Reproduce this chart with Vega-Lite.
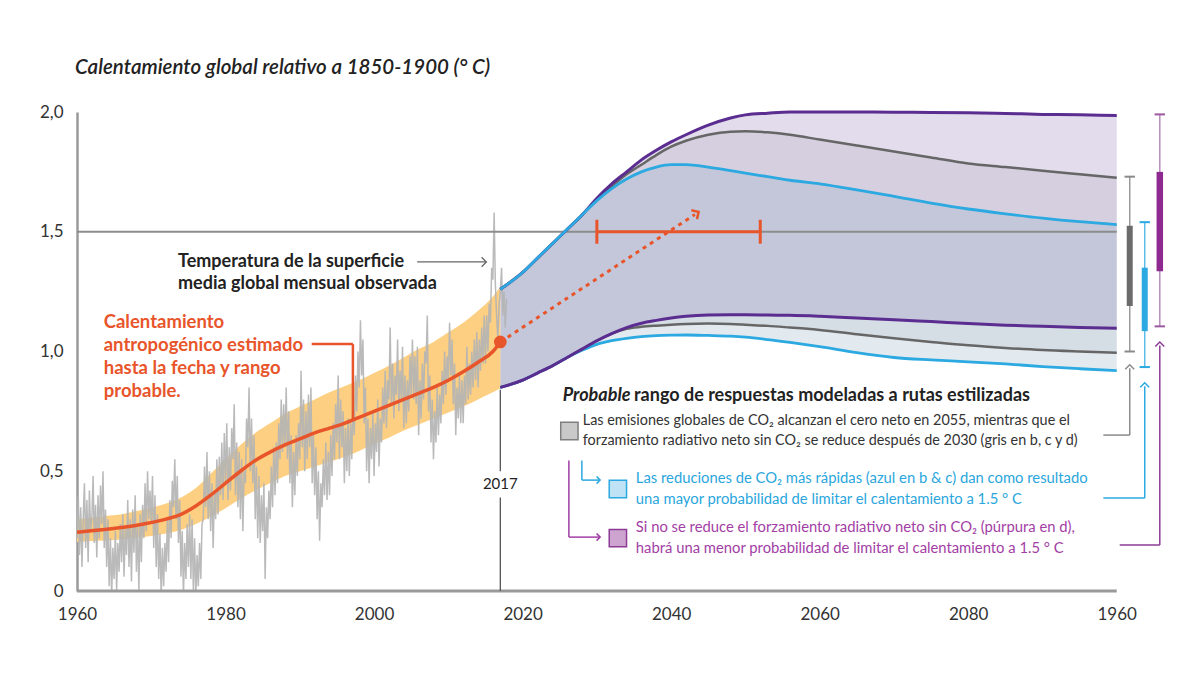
{
  "$schema": "https://vega.github.io/schema/vega-lite/v6.json",
  "width": 1114,
  "height": 479,
  "autosize": {"type": "none"},
  "padding": {"left": 77, "top": 112, "right": 7, "bottom": 109},
  "background": "white",
  "config": {
    "view": {"stroke": null},
    "font": "Lato",
    "axis": {
      "grid": false,
      "ticks": false,
      "tickSize": 0,
      "labelFont": "Lato",
      "labelFontSize": 17,
      "labelColor": "#333333",
      "labelFlush": false,
      "labelOverlap": false
    }
  },
  "datasets": {
    "uno": [{}],
    "observada": [
      {"t":1960,"v":0.22},{"t":1960.167,"v":0.40},{"t":1960.333,"v":0.15},{"t":1960.5,"v":0.35},{"t":1960.667,"v":0.10},{"t":1960.833,"v":0.30},
      {"t":1961,"v":0.45},{"t":1961.167,"v":0.18},{"t":1961.333,"v":0.38},{"t":1961.5,"v":0.12},{"t":1961.667,"v":0.42},{"t":1961.833,"v":0.25},
      {"t":1962,"v":0.30},{"t":1962.167,"v":0.48},{"t":1962.333,"v":0.20},{"t":1962.5,"v":0.36},{"t":1962.667,"v":0.14},{"t":1962.833,"v":0.40},
      {"t":1963,"v":0.22},{"t":1963.167,"v":0.44},{"t":1963.333,"v":0.28},{"t":1963.5,"v":0.50},{"t":1963.667,"v":0.18},{"t":1963.833,"v":0.34},
      {"t":1964,"v":0.10},{"t":1964.167,"v":0.30},{"t":1964.333,"v":0.02},{"t":1964.5,"v":0.22},{"t":1964.667,"v":-0.02},{"t":1964.833,"v":0.18},
      {"t":1965,"v":0.05},{"t":1965.167,"v":0.25},{"t":1965.333,"v":0.00},{"t":1965.5,"v":0.20},{"t":1965.667,"v":0.08},{"t":1965.833,"v":0.28},
      {"t":1966,"v":0.12},{"t":1966.167,"v":0.32},{"t":1966.333,"v":0.06},{"t":1966.5,"v":0.26},{"t":1966.667,"v":0.15},{"t":1966.833,"v":0.38},
      {"t":1967,"v":0.10},{"t":1967.167,"v":0.30},{"t":1967.333,"v":0.04},{"t":1967.5,"v":0.34},{"t":1967.667,"v":0.16},{"t":1967.833,"v":0.40},
      {"t":1968,"v":0.08},{"t":1968.167,"v":0.28},{"t":1968.333,"v":0.00},{"t":1968.5,"v":0.32},{"t":1968.667,"v":0.12},{"t":1968.833,"v":0.36},
      {"t":1969,"v":0.22},{"t":1969.167,"v":0.45},{"t":1969.333,"v":0.25},{"t":1969.5,"v":0.50},{"t":1969.667,"v":0.30},{"t":1969.833,"v":0.42},
      {"t":1970,"v":0.28},{"t":1970.167,"v":0.48},{"t":1970.333,"v":0.18},{"t":1970.5,"v":0.40},{"t":1970.667,"v":0.10},{"t":1970.833,"v":0.32},
      {"t":1971,"v":0.05},{"t":1971.167,"v":0.24},{"t":1971.333,"v":-0.02},{"t":1971.5,"v":0.18},{"t":1971.667,"v":0.02},{"t":1971.833,"v":0.20},
      {"t":1972,"v":0.08},{"t":1972.167,"v":0.30},{"t":1972.333,"v":0.12},{"t":1972.5,"v":0.38},{"t":1972.667,"v":0.22},{"t":1972.833,"v":0.46},
      {"t":1973,"v":0.35},{"t":1973.167,"v":0.55},{"t":1973.333,"v":0.30},{"t":1973.5,"v":0.48},{"t":1973.667,"v":0.20},{"t":1973.833,"v":0.38},
      {"t":1974,"v":0.06},{"t":1974.167,"v":0.25},{"t":1974.333,"v":-0.02},{"t":1974.5,"v":0.20},{"t":1974.667,"v":0.05},{"t":1974.833,"v":0.28},
      {"t":1975,"v":0.10},{"t":1975.167,"v":0.32},{"t":1975.333,"v":0.05},{"t":1975.5,"v":0.30},{"t":1975.667,"v":0.00},{"t":1975.833,"v":0.22},
      {"t":1976,"v":-0.03},{"t":1976.167,"v":0.15},{"t":1976.333,"v":0.02},{"t":1976.5,"v":0.20},{"t":1976.667,"v":0.05},{"t":1976.833,"v":0.28},
      {"t":1977,"v":0.30},{"t":1977.167,"v":0.52},{"t":1977.333,"v":0.35},{"t":1977.5,"v":0.58},{"t":1977.667,"v":0.30},{"t":1977.833,"v":0.50},
      {"t":1978,"v":0.25},{"t":1978.167,"v":0.45},{"t":1978.333,"v":0.18},{"t":1978.5,"v":0.42},{"t":1978.667,"v":0.30},{"t":1978.833,"v":0.55},
      {"t":1979,"v":0.32},{"t":1979.167,"v":0.56},{"t":1979.333,"v":0.40},{"t":1979.5,"v":0.62},{"t":1979.667,"v":0.38},{"t":1979.833,"v":0.66},
      {"t":1980,"v":0.45},{"t":1980.167,"v":0.70},{"t":1980.333,"v":0.38},{"t":1980.5,"v":0.60},{"t":1980.667,"v":0.42},{"t":1980.833,"v":0.68},
      {"t":1981,"v":0.55},{"t":1981.167,"v":0.78},{"t":1981.333,"v":0.40},{"t":1981.5,"v":0.62},{"t":1981.667,"v":0.35},{"t":1981.833,"v":0.58},
      {"t":1982,"v":0.30},{"t":1982.167,"v":0.55},{"t":1982.333,"v":0.25},{"t":1982.5,"v":0.50},{"t":1982.667,"v":0.45},{"t":1982.833,"v":0.72},
      {"t":1983,"v":0.60},{"t":1983.167,"v":0.85},{"t":1983.333,"v":0.50},{"t":1983.5,"v":0.72},{"t":1983.667,"v":0.45},{"t":1983.833,"v":0.65},
      {"t":1984,"v":0.30},{"t":1984.167,"v":0.52},{"t":1984.333,"v":0.22},{"t":1984.5,"v":0.48},{"t":1984.667,"v":0.20},{"t":1984.833,"v":0.40},
      {"t":1985,"v":0.25},{"t":1985.167,"v":0.45},{"t":1985.333,"v":0.05},{"t":1985.5,"v":0.35},{"t":1985.667,"v":0.22},{"t":1985.833,"v":0.42},
      {"t":1986,"v":0.30},{"t":1986.167,"v":0.52},{"t":1986.333,"v":0.35},{"t":1986.5,"v":0.60},{"t":1986.667,"v":0.40},{"t":1986.833,"v":0.62},
      {"t":1987,"v":0.45},{"t":1987.167,"v":0.70},{"t":1987.333,"v":0.55},{"t":1987.5,"v":0.80},{"t":1987.667,"v":0.58},{"t":1987.833,"v":0.78},
      {"t":1988,"v":0.60},{"t":1988.167,"v":0.85},{"t":1988.333,"v":0.55},{"t":1988.5,"v":0.75},{"t":1988.667,"v":0.45},{"t":1988.833,"v":0.65},
      {"t":1989,"v":0.35},{"t":1989.167,"v":0.58},{"t":1989.333,"v":0.40},{"t":1989.5,"v":0.65},{"t":1989.667,"v":0.48},{"t":1989.833,"v":0.70},
      {"t":1990,"v":0.55},{"t":1990.167,"v":0.92},{"t":1990.333,"v":0.60},{"t":1990.5,"v":0.80},{"t":1990.667,"v":0.50},{"t":1990.833,"v":0.75},
      {"t":1991,"v":0.55},{"t":1991.167,"v":0.82},{"t":1991.333,"v":0.60},{"t":1991.5,"v":0.85},{"t":1991.667,"v":0.45},{"t":1991.833,"v":0.65},
      {"t":1992,"v":0.40},{"t":1992.167,"v":0.60},{"t":1992.333,"v":0.30},{"t":1992.5,"v":0.50},{"t":1992.667,"v":0.21},{"t":1992.833,"v":0.45},
      {"t":1993,"v":0.35},{"t":1993.167,"v":0.55},{"t":1993.333,"v":0.40},{"t":1993.5,"v":0.62},{"t":1993.667,"v":0.38},{"t":1993.833,"v":0.58},
      {"t":1994,"v":0.40},{"t":1994.167,"v":0.65},{"t":1994.333,"v":0.48},{"t":1994.5,"v":0.70},{"t":1994.667,"v":0.55},{"t":1994.833,"v":0.78},
      {"t":1995,"v":0.62},{"t":1995.167,"v":0.90},{"t":1995.333,"v":0.55},{"t":1995.5,"v":0.80},{"t":1995.667,"v":0.60},{"t":1995.833,"v":0.75},
      {"t":1996,"v":0.45},{"t":1996.167,"v":0.68},{"t":1996.333,"v":0.50},{"t":1996.5,"v":0.72},{"t":1996.667,"v":0.48},{"t":1996.833,"v":0.70},
      {"t":1997,"v":0.55},{"t":1997.167,"v":0.80},{"t":1997.333,"v":0.65},{"t":1997.5,"v":0.90},{"t":1997.667,"v":0.75},{"t":1997.833,"v":1.00},
      {"t":1998,"v":0.85},{"t":1998.167,"v":1.13},{"t":1998.333,"v":0.90},{"t":1998.5,"v":1.05},{"t":1998.667,"v":0.70},{"t":1998.833,"v":0.85},
      {"t":1999,"v":0.50},{"t":1999.167,"v":0.72},{"t":1999.333,"v":0.45},{"t":1999.5,"v":0.68},{"t":1999.667,"v":0.55},{"t":1999.833,"v":0.75},
      {"t":2000,"v":0.48},{"t":2000.167,"v":0.70},{"t":2000.333,"v":0.58},{"t":2000.5,"v":0.80},{"t":2000.667,"v":0.52},{"t":2000.833,"v":0.72},
      {"t":2001,"v":0.62},{"t":2001.167,"v":0.85},{"t":2001.333,"v":0.70},{"t":2001.5,"v":0.92},{"t":2001.667,"v":0.68},{"t":2001.833,"v":0.88},
      {"t":2002,"v":0.80},{"t":2002.167,"v":1.10},{"t":2002.333,"v":0.78},{"t":2002.5,"v":0.95},{"t":2002.667,"v":0.72},{"t":2002.833,"v":0.90},
      {"t":2003,"v":0.82},{"t":2003.167,"v":1.05},{"t":2003.333,"v":0.75},{"t":2003.5,"v":0.92},{"t":2003.667,"v":0.80},{"t":2003.833,"v":1.02},
      {"t":2004,"v":0.68},{"t":2004.167,"v":0.90},{"t":2004.333,"v":0.70},{"t":2004.5,"v":0.88},{"t":2004.667,"v":0.75},{"t":2004.833,"v":0.98},
      {"t":2005,"v":0.82},{"t":2005.167,"v":1.05},{"t":2005.333,"v":0.80},{"t":2005.5,"v":0.98},{"t":2005.667,"v":0.78},{"t":2005.833,"v":1.02},
      {"t":2006,"v":0.65},{"t":2006.167,"v":0.88},{"t":2006.333,"v":0.72},{"t":2006.5,"v":0.95},{"t":2006.667,"v":0.80},{"t":2006.833,"v":1.00},
      {"t":2007,"v":0.95},{"t":2007.167,"v":1.15},{"t":2007.333,"v":0.75},{"t":2007.5,"v":0.90},{"t":2007.667,"v":0.62},{"t":2007.833,"v":0.80},
      {"t":2008,"v":0.55},{"t":2008.167,"v":0.75},{"t":2008.333,"v":0.62},{"t":2008.5,"v":0.85},{"t":2008.667,"v":0.65},{"t":2008.833,"v":0.82},
      {"t":2009,"v":0.70},{"t":2009.167,"v":0.92},{"t":2009.333,"v":0.78},{"t":2009.5,"v":1.00},{"t":2009.667,"v":0.82},{"t":2009.833,"v":0.98},
      {"t":2010,"v":0.88},{"t":2010.167,"v":1.12},{"t":2010.333,"v":0.90},{"t":2010.5,"v":1.05},{"t":2010.667,"v":0.78},{"t":2010.833,"v":0.95},
      {"t":2011,"v":0.65},{"t":2011.167,"v":0.85},{"t":2011.333,"v":0.72},{"t":2011.5,"v":0.90},{"t":2011.667,"v":0.70},{"t":2011.833,"v":0.88},
      {"t":2012,"v":0.70},{"t":2012.167,"v":0.90},{"t":2012.333,"v":0.78},{"t":2012.5,"v":1.02},{"t":2012.667,"v":0.80},{"t":2012.833,"v":0.95},
      {"t":2013,"v":0.82},{"t":2013.167,"v":1.00},{"t":2013.333,"v":0.85},{"t":2013.5,"v":1.05},{"t":2013.667,"v":0.88},{"t":2013.833,"v":1.08},
      {"t":2014,"v":0.85},{"t":2014.167,"v":1.05},{"t":2014.333,"v":0.92},{"t":2014.5,"v":1.10},{"t":2014.667,"v":0.95},{"t":2014.833,"v":1.15},
      {"t":2015,"v":0.95},{"t":2015.167,"v":1.15},{"t":2015.333,"v":1.00},{"t":2015.5,"v":1.20},{"t":2015.667,"v":1.12},{"t":2015.833,"v":1.35},
      {"t":2016,"v":1.30},{"t":2016.167,"v":1.58},{"t":2016.333,"v":1.28},{"t":2016.5,"v":1.15},{"t":2016.667,"v":1.05},{"t":2016.833,"v":1.20},
      {"t":2017,"v":1.25},{"t":2017.167,"v":1.35},{"t":2017.333,"v":1.15},{"t":2017.5,"v":1.25},{"t":2017.667,"v":1.10},{"t":2017.833,"v":1.22}
    ],
    "antropogenico": [
      {"año":1960,"est":0.245,"min":0.205,"max":0.30},
      {"año":1963,"est":0.255,"min":0.21,"max":0.31},
      {"año":1966,"est":0.265,"min":0.215,"max":0.32},
      {"año":1969,"est":0.28,"min":0.225,"max":0.34},
      {"año":1972,"est":0.30,"min":0.24,"max":0.365},
      {"año":1974,"est":0.32,"min":0.255,"max":0.39},
      {"año":1976,"est":0.355,"min":0.28,"max":0.43},
      {"año":1978,"est":0.40,"min":0.31,"max":0.49},
      {"año":1980,"est":0.45,"min":0.345,"max":0.55},
      {"año":1982,"est":0.50,"min":0.385,"max":0.61},
      {"año":1984,"est":0.545,"min":0.42,"max":0.66},
      {"año":1986,"est":0.58,"min":0.45,"max":0.70},
      {"año":1988,"est":0.61,"min":0.48,"max":0.74},
      {"año":1990,"est":0.635,"min":0.50,"max":0.77},
      {"año":1992,"est":0.66,"min":0.52,"max":0.80},
      {"año":1994,"est":0.68,"min":0.54,"max":0.83},
      {"año":1996,"est":0.70,"min":0.56,"max":0.855},
      {"año":1998,"est":0.725,"min":0.585,"max":0.88},
      {"año":2000,"est":0.75,"min":0.615,"max":0.91},
      {"año":2002,"est":0.775,"min":0.64,"max":0.94},
      {"año":2004,"est":0.80,"min":0.67,"max":0.975},
      {"año":2006,"est":0.825,"min":0.695,"max":1.01},
      {"año":2008,"est":0.85,"min":0.72,"max":1.04},
      {"año":2010,"est":0.88,"min":0.745,"max":1.08},
      {"año":2012,"est":0.915,"min":0.77,"max":1.12},
      {"año":2014,"est":0.955,"min":0.80,"max":1.17},
      {"año":2016,"est":1.00,"min":0.83,"max":1.23},
      {"año":2017,"est":1.04,"min":0.845,"max":1.27}
    ],
    "rutas": [
      {"año":2017,"pu":1.26,"gu":1.26,"bu":1.26,"pl":0.85,"gl":0.85,"bl":0.85},
      {"año":2020,"pu":1.33,"gu":1.33,"bu":1.33,"pl":0.88,"gl":0.88,"bl":0.88},
      {"año":2022,"pu":1.39,"gu":1.39,"bu":1.39,"pl":0.91,"gl":0.91,"bl":0.91},
      {"año":2024,"pu":1.45,"gu":1.45,"bu":1.45,"pl":0.94,"gl":0.94,"bl":0.94},
      {"año":2026,"pu":1.51,"gu":1.51,"bu":1.51,"pl":0.975,"gl":0.975,"bl":0.975},
      {"año":2028,"pu":1.57,"gu":1.57,"bu":1.57,"pl":1.01,"gl":1.01,"bl":1.005},
      {"año":2030,"pu":1.64,"gu":1.635,"bu":1.63,"pl":1.045,"gl":1.045,"bl":1.03},
      {"año":2032,"pu":1.70,"gu":1.69,"bu":1.68,"pl":1.075,"gl":1.075,"bl":1.045},
      {"año":2034,"pu":1.75,"gu":1.74,"bu":1.72,"pl":1.10,"gl":1.095,"bl":1.055},
      {"año":2036,"pu":1.80,"gu":1.78,"bu":1.75,"pl":1.118,"gl":1.103,"bl":1.062},
      {"año":2038,"pu":1.84,"gu":1.82,"bu":1.77,"pl":1.13,"gl":1.108,"bl":1.066},
      {"año":2040,"pu":1.875,"gu":1.855,"bu":1.78,"pl":1.14,"gl":1.112,"bl":1.068},
      {"año":2042,"pu":1.905,"gu":1.88,"bu":1.78,"pl":1.147,"gl":1.115,"bl":1.069},
      {"año":2045,"pu":1.945,"gu":1.905,"bu":1.77,"pl":1.152,"gl":1.117,"bl":1.067},
      {"año":2048,"pu":1.975,"gu":1.918,"bu":1.755,"pl":1.153,"gl":1.115,"bl":1.064},
      {"año":2050,"pu":1.988,"gu":1.92,"bu":1.745,"pl":1.153,"gl":1.112,"bl":1.06},
      {"año":2053,"pu":1.995,"gu":1.915,"bu":1.73,"pl":1.152,"gl":1.107,"bl":1.05},
      {"año":2056,"pu":2.0,"gu":1.905,"bu":1.715,"pl":1.151,"gl":1.10,"bl":1.038},
      {"año":2060,"pu":2.0,"gu":1.885,"bu":1.70,"pl":1.147,"gl":1.09,"bl":1.02},
      {"año":2065,"pu":2.0,"gu":1.86,"bu":1.675,"pl":1.14,"gl":1.072,"bl":0.995},
      {"año":2070,"pu":1.999,"gu":1.835,"bu":1.648,"pl":1.133,"gl":1.055,"bl":0.975},
      {"año":2075,"pu":1.998,"gu":1.81,"bu":1.62,"pl":1.125,"gl":1.04,"bl":0.965},
      {"año":2080,"pu":1.997,"gu":1.785,"bu":1.595,"pl":1.117,"gl":1.026,"bl":0.957},
      {"año":2085,"pu":1.994,"gu":1.77,"bu":1.575,"pl":1.11,"gl":1.015,"bl":0.948},
      {"año":2090,"pu":1.99,"gu":1.755,"bu":1.557,"pl":1.105,"gl":1.006,"bl":0.937},
      {"año":2095,"pu":1.988,"gu":1.74,"bu":1.542,"pl":1.10,"gl":1.0,"bl":0.928},
      {"año":2100,"pu":1.985,"gu":1.725,"bu":1.53,"pl":1.097,"gl":0.995,"bl":0.92}
    ],
    "rangos": [
      {"ruta":"gris","min":1.0,"max":1.73,"lo":1.19,"hi":1.525},
      {"ruta":"azul","min":0.935,"max":1.54,"lo":1.085,"hi":1.35},
      {"ruta":"purpura","min":1.105,"max":1.99,"lo":1.335,"hi":1.75}
    ]
  },
  "layer": [
    {
      "data": {"name": "rutas"},
      "mark": {"type": "area", "color": "#9682b9", "opacity": 0.28, "interpolate": "monotone"},
      "encoding": {
        "x": {
          "field": "año", "type": "quantitative",
          "scale": {"domain": [1960, 2110], "nice": false, "zero": false},
          "axis": {
            "title": null, "domain": false,
            "values": [1960, 1980, 2000, 2020, 2040, 2060, 2080, 2100],
            "labelExpr": "datum.value == 2100 ? '1960' : format(datum.value, 'd')",
            "labelPadding": 15
          }
        },
        "y": {
          "field": "pl", "type": "quantitative",
          "scale": {"domain": [0, 2], "nice": false},
          "axis": {
            "title": null, "domain": true, "domainColor": "#9a9a9a", "domainWidth": 2.5,
            "values": [0, 0.5, 1, 1.5, 2],
            "labelExpr": "datum.value == 0 ? '0' : replace(format(datum.value, '.1f'), '.', ',')",
            "labelPadding": 14
          }
        },
        "y2": {"field": "pu"}
      }
    },
    {
      "data": {"name": "rutas"},
      "mark": {"type": "area", "color": "#64646e", "opacity": 0.1, "interpolate": "monotone"},
      "encoding": {"x": {"field": "año", "type": "quantitative"}, "y": {"field": "gl", "type": "quantitative"}, "y2": {"field": "gu"}}
    },
    {
      "data": {"name": "rutas"},
      "mark": {"type": "area", "color": "#96b4c8", "opacity": 0.28, "interpolate": "monotone"},
      "encoding": {"x": {"field": "año", "type": "quantitative"}, "y": {"field": "bl", "type": "quantitative"}, "y2": {"field": "bu"}}
    },
    {
      "data": {"name": "antropogenico"},
      "mark": {"type": "area", "color": "#fdcf82", "opacity": 1, "interpolate": "monotone"},
      "encoding": {"x": {"field": "año", "type": "quantitative"}, "y": {"field": "min", "type": "quantitative"}, "y2": {"field": "max"}}
    },
    {
      "data": {"name": "observada"},
      "mark": {"type": "line", "color": "#b4b4b4", "strokeWidth": 1.5, "opacity": 0.92, "clip": true},
      "encoding": {"x": {"field": "t", "type": "quantitative"}, "y": {"field": "v", "type": "quantitative"}}
    },
    {
      "data": {"name": "uno"},
      "mark": {"type": "rule", "color": "#8c8c8c", "strokeWidth": 2},
      "encoding": {"x": {"datum": 1960}, "x2": {"datum": 2100}, "y": {"datum": 1.5}}
    },
    {
      "data": {"name": "uno"},
      "mark": {"type": "rule", "color": "#9a9a9a", "strokeWidth": 3},
      "encoding": {"x": {"datum": 1960}, "x2": {"datum": 2100}, "y": {"datum": 0}}
    },
    {
      "data": {"name": "uno"},
      "mark": {"type": "rule", "color": "#555555", "strokeWidth": 1.3},
      "encoding": {"x": {"datum": 2017}, "y": {"datum": 0}, "y2": {"datum": 0.39}}
    },
    {
      "data": {"name": "uno"},
      "mark": {"type": "rule", "color": "#555555", "strokeWidth": 1.3},
      "encoding": {"x": {"datum": 2017}, "y": {"datum": 0.5}, "y2": {"datum": 0.84}}
    },
    {
      "data": {"name": "uno"},
      "mark": {"type": "text", "align": "center", "baseline": "middle", "font": "Lato", "fontSize": 15, "color": "#222222"},
      "encoding": {"x": {"datum": 2017}, "y": {"datum": 0.447}, "text": {"value": "2017"}}
    },
    {
      "data": {"name": "antropogenico"},
      "mark": {"type": "line", "color": "#e8552b", "strokeWidth": 3.5, "interpolate": "monotone"},
      "encoding": {"x": {"field": "año", "type": "quantitative"}, "y": {"field": "est", "type": "quantitative"}}
    },
    {
      "data": {"name": "uno"},
      "mark": {"type": "point", "filled": true, "size": 160, "color": "#e8552b", "opacity": 1},
      "encoding": {"x": {"datum": 2017}, "y": {"datum": 1.04}}
    },
    {
      "data": {"name": "uno"},
      "mark": {"type": "rule", "color": "#e8552b", "strokeWidth": 3, "strokeDash": [4, 4.5]},
      "encoding": {"x": {"datum": 2018}, "y": {"datum": 1.06}, "x2": {"datum": 2043.2}, "y2": {"datum": 1.572}}
    },
    {
      "data": {"name": "uno"},
      "mark": {"type": "point", "shape": "M-0.5,-1L0.5,0L-0.5,1", "filled": false, "size": 110, "stroke": "#e8552b", "strokeWidth": 2.5, "opacity": 1, "angle": -33},
      "encoding": {"x": {"datum": 2043.4}, "y": {"datum": 1.577}}
    },
    {
      "data": {"name": "uno"},
      "mark": {"type": "rule", "color": "#e8552b", "strokeWidth": 3},
      "encoding": {"x": {"datum": 2030}, "x2": {"datum": 2052}, "y": {"datum": 1.5}}
    },
    {
      "data": {"name": "uno"},
      "mark": {"type": "rule", "color": "#e8552b", "strokeWidth": 3},
      "encoding": {"x": {"datum": 2030}, "y": {"datum": 1.45}, "y2": {"datum": 1.55}}
    },
    {
      "data": {"name": "uno"},
      "mark": {"type": "rule", "color": "#e8552b", "strokeWidth": 3},
      "encoding": {"x": {"datum": 2052}, "y": {"datum": 1.45}, "y2": {"datum": 1.55}}
    },
    {
      "data": {"name": "rutas"},
      "mark": {"type": "line", "color": "#666666", "strokeWidth": 2.5, "interpolate": "monotone"},
      "encoding": {"x": {"field": "año", "type": "quantitative"}, "y": {"field": "gu", "type": "quantitative"}}
    },
    {
      "data": {"name": "rutas"},
      "mark": {"type": "line", "color": "#5b2d90", "strokeWidth": 3, "interpolate": "monotone"},
      "encoding": {"x": {"field": "año", "type": "quantitative"}, "y": {"field": "pu", "type": "quantitative"}}
    },
    {
      "data": {"name": "rutas"},
      "mark": {"type": "line", "color": "#2ba9e0", "strokeWidth": 2.8, "interpolate": "monotone"},
      "encoding": {"x": {"field": "año", "type": "quantitative"}, "y": {"field": "bu", "type": "quantitative"}}
    },
    {
      "data": {"name": "rutas"},
      "mark": {"type": "line", "color": "#666666", "strokeWidth": 2.5, "interpolate": "monotone"},
      "encoding": {"x": {"field": "año", "type": "quantitative"}, "y": {"field": "gl", "type": "quantitative"}}
    },
    {
      "data": {"name": "rutas"},
      "mark": {"type": "line", "color": "#2ba9e0", "strokeWidth": 2.8, "interpolate": "monotone"},
      "encoding": {"x": {"field": "año", "type": "quantitative"}, "y": {"field": "bl", "type": "quantitative"}}
    },
    {
      "data": {"name": "rutas"},
      "mark": {"type": "line", "color": "#5b2d90", "strokeWidth": 3, "interpolate": "monotone"},
      "encoding": {"x": {"field": "año", "type": "quantitative"}, "y": {"field": "pl", "type": "quantitative"}}
    },
    {
      "data": {"name": "rangos"},
      "transform": [{"filter": "datum.ruta == 'gris'"}],
      "mark": {"type": "rule", "color": "#9a9a9a", "strokeWidth": 1.5},
      "encoding": {"x": {"datum": 2101.75}, "y": {"field": "min", "type": "quantitative"}, "y2": {"field": "max"}}
    },
    {
      "data": {"name": "rangos"},
      "transform": [{"filter": "datum.ruta == 'gris'"}],
      "mark": {"type": "rule", "color": "#6b6b6b", "strokeWidth": 6},
      "encoding": {"x": {"datum": 2101.75}, "y": {"field": "lo", "type": "quantitative"}, "y2": {"field": "hi"}}
    },
    {
      "data": {"name": "rangos"},
      "transform": [{"filter": "datum.ruta == 'gris'"}, {"fold": ["min", "max"]}],
      "mark": {"type": "rule", "color": "#8a8a8a", "strokeWidth": 2},
      "encoding": {"x": {"datum": 2101.05}, "x2": {"datum": 2102.45}, "y": {"field": "value", "type": "quantitative"}}
    },
    {
      "data": {"name": "rangos"},
      "transform": [{"filter": "datum.ruta == 'azul'"}],
      "mark": {"type": "rule", "color": "#5cbde8", "strokeWidth": 1.5},
      "encoding": {"x": {"datum": 2103.77}, "y": {"field": "min", "type": "quantitative"}, "y2": {"field": "max"}}
    },
    {
      "data": {"name": "rangos"},
      "transform": [{"filter": "datum.ruta == 'azul'"}],
      "mark": {"type": "rule", "color": "#2ba9e0", "strokeWidth": 6},
      "encoding": {"x": {"datum": 2103.77}, "y": {"field": "lo", "type": "quantitative"}, "y2": {"field": "hi"}}
    },
    {
      "data": {"name": "rangos"},
      "transform": [{"filter": "datum.ruta == 'azul'"}, {"fold": ["min", "max"]}],
      "mark": {"type": "rule", "color": "#2ba9e0", "strokeWidth": 2},
      "encoding": {"x": {"datum": 2103.07}, "x2": {"datum": 2104.47}, "y": {"field": "value", "type": "quantitative"}}
    },
    {
      "data": {"name": "rangos"},
      "transform": [{"filter": "datum.ruta == 'purpura'"}],
      "mark": {"type": "rule", "color": "#b88bbd", "strokeWidth": 1.5},
      "encoding": {"x": {"datum": 2105.8}, "y": {"field": "min", "type": "quantitative"}, "y2": {"field": "max"}}
    },
    {
      "data": {"name": "rangos"},
      "transform": [{"filter": "datum.ruta == 'purpura'"}],
      "mark": {"type": "rule", "color": "#8e2a8f", "strokeWidth": 6.5},
      "encoding": {"x": {"datum": 2105.8}, "y": {"field": "lo", "type": "quantitative"}, "y2": {"field": "hi"}}
    },
    {
      "data": {"name": "rangos"},
      "transform": [{"filter": "datum.ruta == 'purpura'"}, {"fold": ["min", "max"]}],
      "mark": {"type": "rule", "color": "#9b5aa0", "strokeWidth": 2},
      "encoding": {"x": {"datum": 2105.1}, "x2": {"datum": 2106.5}, "y": {"field": "value", "type": "quantitative"}}
    },
    {
      "data": {"name": "uno"},
      "mark": {"type": "rule", "color": "#8a8a8a", "strokeWidth": 1.5},
      "encoding": {"x": {"datum": 2098.2}, "x2": {"datum": 2101.75}, "y": {"datum": 0.651}}
    },
    {
      "data": {"name": "uno"},
      "mark": {"type": "rule", "color": "#8a8a8a", "strokeWidth": 1.5},
      "encoding": {"x": {"datum": 2101.75}, "y": {"datum": 0.651}, "y2": {"datum": 0.93}}
    },
    {
      "data": {"name": "uno"},
      "mark": {"type": "point", "shape": "M-1,0.5L0,-0.5L1,0.5", "filled": false, "size": 80, "stroke": "#8a8a8a", "strokeWidth": 1.5, "opacity": 1},
      "encoding": {"x": {"datum": 2101.75}, "y": {"datum": 0.935}}
    },
    {
      "data": {"name": "uno"},
      "mark": {"type": "rule", "color": "#2ba9e0", "strokeWidth": 1.5},
      "encoding": {"x": {"datum": 2098.2}, "x2": {"datum": 2103.77}, "y": {"datum": 0.388}}
    },
    {
      "data": {"name": "uno"},
      "mark": {"type": "rule", "color": "#2ba9e0", "strokeWidth": 1.5},
      "encoding": {"x": {"datum": 2103.77}, "y": {"datum": 0.388}, "y2": {"datum": 0.855}}
    },
    {
      "data": {"name": "uno"},
      "mark": {"type": "point", "shape": "M-1,0.5L0,-0.5L1,0.5", "filled": false, "size": 80, "stroke": "#2ba9e0", "strokeWidth": 1.5, "opacity": 1},
      "encoding": {"x": {"datum": 2103.77}, "y": {"datum": 0.86}}
    },
    {
      "data": {"name": "uno"},
      "mark": {"type": "rule", "color": "#8e3b96", "strokeWidth": 1.5},
      "encoding": {"x": {"datum": 2100.4}, "x2": {"datum": 2105.8}, "y": {"datum": 0.192}}
    },
    {
      "data": {"name": "uno"},
      "mark": {"type": "rule", "color": "#8e3b96", "strokeWidth": 1.5},
      "encoding": {"x": {"datum": 2105.8}, "y": {"datum": 0.192}, "y2": {"datum": 1.025}}
    },
    {
      "data": {"name": "uno"},
      "mark": {"type": "point", "shape": "M-1,0.5L0,-0.5L1,0.5", "filled": false, "size": 80, "stroke": "#8e3b96", "strokeWidth": 1.5, "opacity": 1},
      "encoding": {"x": {"datum": 2105.8}, "y": {"datum": 1.03}}
    },
    {
      "data": {"name": "uno"},
      "mark": {"type": "text", "align": "left", "baseline": "middle", "font": "Lato", "fontSize": 20.5, "fontStyle": "italic", "fontWeight": 600, "color": "#222222", "dx": -2},
      "encoding": {"x": {"datum": 1960}, "y": {"datum": 2.184}, "text": {"value": "Calentamiento global relativo a 1850-1900 (° C)"}}
    },
    {
      "data": {"name": "uno"},
      "mark": {"type": "text", "align": "left", "baseline": "middle", "font": "Lato", "fontSize": 18, "fontWeight": "bold", "color": "#222222"},
      "encoding": {"x": {"datum": 1973.6}, "y": {"datum": 1.374}, "text": {"value": "Temperatura de la superficie"}}
    },
    {
      "data": {"name": "uno"},
      "mark": {"type": "text", "align": "left", "baseline": "middle", "font": "Lato", "fontSize": 18, "fontWeight": "bold", "color": "#222222"},
      "encoding": {"x": {"datum": 1973.6}, "y": {"datum": 1.282}, "text": {"value": "media global mensual observada"}}
    },
    {
      "data": {"name": "uno"},
      "mark": {"type": "rule", "color": "#666666", "strokeWidth": 1.2},
      "encoding": {"x": {"datum": 2005.8}, "x2": {"datum": 2015.1}, "y": {"datum": 1.374}}
    },
    {
      "data": {"name": "uno"},
      "mark": {"type": "point", "shape": "M-0.5,-1L0.5,0L-0.5,1", "filled": false, "size": 90, "stroke": "#666666", "strokeWidth": 1.3, "opacity": 1},
      "encoding": {"x": {"datum": 2014.8}, "y": {"datum": 1.374}}
    },
    {
      "data": {"name": "uno"},
      "mark": {"type": "text", "align": "left", "baseline": "middle", "font": "Lato", "fontSize": 18.5, "fontWeight": "bold", "color": "#e8552b"},
      "encoding": {"x": {"datum": 1963.6}, "y": {"datum": 1.123}, "text": {"value": "Calentamiento"}}
    },
    {
      "data": {"name": "uno"},
      "mark": {"type": "text", "align": "left", "baseline": "middle", "font": "Lato", "fontSize": 18.5, "fontWeight": "bold", "color": "#e8552b"},
      "encoding": {"x": {"datum": 1963.6}, "y": {"datum": 1.027}, "text": {"value": "antropogénico estimado"}}
    },
    {
      "data": {"name": "uno"},
      "mark": {"type": "text", "align": "left", "baseline": "middle", "font": "Lato", "fontSize": 18.5, "fontWeight": "bold", "color": "#e8552b"},
      "encoding": {"x": {"datum": 1963.6}, "y": {"datum": 0.931}, "text": {"value": "hasta la fecha y rango"}}
    },
    {
      "data": {"name": "uno"},
      "mark": {"type": "text", "align": "left", "baseline": "middle", "font": "Lato", "fontSize": 18.5, "fontWeight": "bold", "color": "#e8552b"},
      "encoding": {"x": {"datum": 1963.6}, "y": {"datum": 0.835}, "text": {"value": "probable."}}
    },
    {
      "data": {"name": "uno"},
      "mark": {"type": "rule", "color": "#e8552b", "strokeWidth": 2.5},
      "encoding": {"x": {"datum": 1991.6}, "x2": {"datum": 1997.15}, "y": {"datum": 1.031}}
    },
    {
      "data": {"name": "uno"},
      "mark": {"type": "rule", "color": "#e8552b", "strokeWidth": 2.5},
      "encoding": {"x": {"datum": 1997.15}, "y": {"datum": 1.031}, "y2": {"datum": 0.71}}
    },
    {
      "data": {"name": "uno"},
      "mark": {"type": "text", "align": "left", "baseline": "middle", "font": "Lato", "fontSize": 18, "fontWeight": "bold", "fontStyle": "italic", "color": "#222222"},
      "encoding": {"x": {"datum": 2025.4}, "y": {"datum": 0.814}, "text": {"value": "Probable"}}
    },
    {
      "data": {"name": "uno"},
      "mark": {"type": "text", "align": "left", "baseline": "middle", "font": "Lato", "fontSize": 18, "fontWeight": "bold", "color": "#222222"},
      "encoding": {"x": {"datum": 2035.0}, "y": {"datum": 0.814}, "text": {"value": "rango de respuestas modeladas a rutas estilizadas"}}
    },
    {
      "data": {"name": "uno"},
      "mark": {"type": "point", "shape": "square", "filled": true, "size": 300, "color": "#c9c9c9", "stroke": "#7f7f7f", "strokeWidth": 1.5, "opacity": 1},
      "encoding": {"x": {"datum": 2026.3}, "y": {"datum": 0.668}}
    },
    {
      "data": {"name": "uno"},
      "mark": {"type": "text", "align": "left", "baseline": "middle", "font": "Lato", "fontSize": 14.4, "color": "#333333"},
      "encoding": {"x": {"datum": 2028.1}, "y": {"datum": 0.71}, "text": {"value": "Las emisiones globales de CO₂ alcanzan el cero neto en 2055, mientras que el"}}
    },
    {
      "data": {"name": "uno"},
      "mark": {"type": "text", "align": "left", "baseline": "middle", "font": "Lato", "fontSize": 14.4, "color": "#333333"},
      "encoding": {"x": {"datum": 2028.1}, "y": {"datum": 0.626}, "text": {"value": "forzamiento radiativo neto sin CO₂ se reduce después de 2030 (gris en b, c y d)"}}
    },
    {
      "data": {"name": "uno"},
      "mark": {"type": "rule", "color": "#2ba9e0", "strokeWidth": 1.5},
      "encoding": {"x": {"datum": 2027.98}, "y": {"datum": 0.545}, "y2": {"datum": 0.463}}
    },
    {
      "data": {"name": "uno"},
      "mark": {"type": "rule", "color": "#2ba9e0", "strokeWidth": 1.5},
      "encoding": {"x": {"datum": 2027.98}, "x2": {"datum": 2030.3}, "y": {"datum": 0.463}}
    },
    {
      "data": {"name": "uno"},
      "mark": {"type": "point", "shape": "M-0.5,-1L0.5,0L-0.5,1", "filled": false, "size": 50, "stroke": "#2ba9e0", "strokeWidth": 1.5, "opacity": 1},
      "encoding": {"x": {"datum": 2030.2}, "y": {"datum": 0.463}}
    },
    {
      "data": {"name": "uno"},
      "mark": {"type": "point", "shape": "square", "filled": true, "size": 300, "color": "#bfe2f4", "stroke": "#2ba9e0", "strokeWidth": 1.5, "opacity": 1},
      "encoding": {"x": {"datum": 2032.83}, "y": {"datum": 0.426}}
    },
    {
      "data": {"name": "uno"},
      "mark": {"type": "text", "align": "left", "baseline": "middle", "font": "Lato", "fontSize": 14.8, "color": "#2aa6dd"},
      "encoding": {"x": {"datum": 2035.25}, "y": {"datum": 0.468}, "text": {"value": "Las reduciones de CO₂ más rápidas (azul en b & c) dan como resultado"}}
    },
    {
      "data": {"name": "uno"},
      "mark": {"type": "text", "align": "left", "baseline": "middle", "font": "Lato", "fontSize": 14.8, "color": "#2aa6dd"},
      "encoding": {"x": {"datum": 2035.25}, "y": {"datum": 0.38}, "text": {"value": "una mayor probabilidad de limitar el calentamiento a 1.5 ° C"}}
    },
    {
      "data": {"name": "uno"},
      "mark": {"type": "rule", "color": "#a23ea5", "strokeWidth": 1.5},
      "encoding": {"x": {"datum": 2026.23}, "y": {"datum": 0.545}, "y2": {"datum": 0.225}}
    },
    {
      "data": {"name": "uno"},
      "mark": {"type": "rule", "color": "#a23ea5", "strokeWidth": 1.5},
      "encoding": {"x": {"datum": 2026.23}, "x2": {"datum": 2030.3}, "y": {"datum": 0.225}}
    },
    {
      "data": {"name": "uno"},
      "mark": {"type": "point", "shape": "M-0.5,-1L0.5,0L-0.5,1", "filled": false, "size": 50, "stroke": "#a23ea5", "strokeWidth": 1.5, "opacity": 1},
      "encoding": {"x": {"datum": 2030.2}, "y": {"datum": 0.225}}
    },
    {
      "data": {"name": "uno"},
      "mark": {"type": "point", "shape": "square", "filled": true, "size": 300, "color": "#cda4d0", "stroke": "#8e3b96", "strokeWidth": 1.5, "opacity": 1},
      "encoding": {"x": {"datum": 2032.83}, "y": {"datum": 0.221}}
    },
    {
      "data": {"name": "uno"},
      "mark": {"type": "text", "align": "left", "baseline": "middle", "font": "Lato", "fontSize": 14.8, "color": "#a23ea5"},
      "encoding": {"x": {"datum": 2035.25}, "y": {"datum": 0.263}, "text": {"value": "Si no se reduce el forzamiento radiativo neto sin CO₂ (púrpura en d),"}}
    },
    {
      "data": {"name": "uno"},
      "mark": {"type": "text", "align": "left", "baseline": "middle", "font": "Lato", "fontSize": 14.8, "color": "#a23ea5"},
      "encoding": {"x": {"datum": 2035.25}, "y": {"datum": 0.175}, "text": {"value": "habrá una menor probabilidad de limitar el calentamiento a 1.5 ° C"}}
    }
  ]
}
